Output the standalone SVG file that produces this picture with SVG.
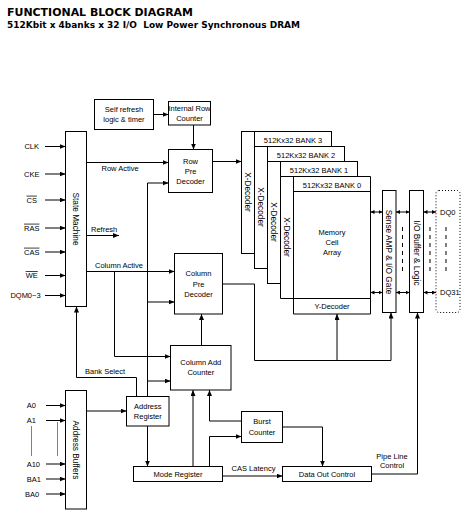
<svg xmlns="http://www.w3.org/2000/svg" width="468" height="522" viewBox="0 0 468 522">
<defs>
<marker id="ah" markerUnits="userSpaceOnUse" markerWidth="6" markerHeight="5" refX="6" refY="2.5" orient="auto"><path d="M0,0 L6,2.5 L0,5 z" fill="#000"/></marker>
<marker id="ahs" markerUnits="userSpaceOnUse" markerWidth="4" markerHeight="4" refX="4" refY="2" orient="auto-start-reverse"><path d="M0,0 L4,2 L0,4 z" fill="#000"/></marker>
<style>
.b{fill:#fff;stroke:#000;stroke-width:1}
.c{fill:none;stroke:#000;stroke-width:1}
.a{marker-end:url(#ah)}
.bi{marker-start:url(#ahs);marker-end:url(#ahs)}
.t{font-family:"Liberation Sans",Arial,sans-serif;font-size:7.5px;fill:#000}
.m{text-anchor:middle}
.r{font-size:8.3px;text-anchor:middle;dominant-baseline:central}
.ttl{font-family:"DejaVu Sans",Verdana,sans-serif;font-weight:bold;fill:#000}
.ol{text-decoration:overline}
</style>
</defs>
<rect width="468" height="522" fill="#fff"/>
<g id="title">
<text class="ttl" x="7" y="15.7" font-size="11" textLength="186" lengthAdjust="spacingAndGlyphs">FUNCTIONAL BLOCK DIAGRAM</text>
<text class="ttl" x="7" y="27.7" font-size="9.5" textLength="293" lengthAdjust="spacingAndGlyphs" xml:space="preserve">512Kbit x 4banks x 32 I/O  Low Power Synchronous DRAM</text>
</g>
<g id="signals" class="t m">
<text x="31.7" y="149.2">CLK</text>
<text x="31.7" y="176.7">CKE</text>
<text x="31.7" y="202.7" class="ol">CS</text>
<text x="31.7" y="230.7" class="ol">RAS</text>
<text x="31.7" y="254.7" class="ol">CAS</text>
<text x="31.7" y="278.2" class="ol">WE</text>
<text x="25.5" y="298.2">DQM0~3</text>
</g>
<g id="addr-signals" class="t">
<text x="26.7" y="408.2">A0</text>
<text x="26.7" y="423.2">A1</text>
<text x="26.7" y="466.7">A10</text>
<text x="26.7" y="481.7">BA1</text>
<text x="25" y="496.7">BA0</text>
</g>
<g id="state-machine"><rect class="b" x="65.5" y="131.5" width="21" height="175"/><text class="t r" transform="translate(76,219) rotate(90)">State Machine</text></g>
<g id="address-buffers"><rect class="b" x="65.5" y="390.5" width="21" height="118.5"/><text class="t r" transform="translate(76,450) rotate(90)">Address Buffers</text></g>
<g id="self-refresh"><rect class="b" x="94.5" y="99.5" width="59" height="30"/><text class="t m" x="124" y="111.7">Self refresh</text><text class="t m" x="124" y="121.7">logic &amp; timer</text></g>
<g id="internal-row-counter"><rect class="b" x="168.5" y="101.5" width="42" height="23.5"/><text class="t m" x="189.5" y="111" font-size="7">Internal Row</text><text class="t m" x="189.5" y="121" font-size="7">Counter</text></g>
<g id="row-pre-decoder"><rect class="b" x="168.5" y="149.5" width="44" height="43"/><text class="t m" x="190.5" y="163.7">Row</text><text class="t m" x="190.5" y="173.7">Pre</text><text class="t m" x="190.5" y="183.7">Decoder</text></g>
<g id="column-pre-decoder"><rect class="b" x="174.5" y="253.5" width="48" height="60.5"/><text class="t m" x="198.5" y="276">Column</text><text class="t m" x="198.5" y="286.5">Pre</text><text class="t m" x="198.5" y="297">Decoder</text></g>
<g id="column-add-counter"><rect class="b" x="170.5" y="345.5" width="60.5" height="44.5"/><text class="t m" x="200.8" y="365">Column Add</text><text class="t m" x="200.8" y="374.5">Counter</text></g>
<g id="address-register"><rect class="b" x="126.5" y="396.5" width="42.5" height="29.5"/><text class="t m" x="147.8" y="408.5">Address</text><text class="t m" x="147.8" y="418.5">Register</text></g>
<g id="mode-register"><rect class="b" x="133.5" y="466.5" width="89" height="15"/><text class="t m" x="178" y="476.7">Mode Register</text></g>
<g id="burst-counter"><rect class="b" x="241.5" y="411.5" width="41" height="31"/><text class="t m" x="262" y="423.7">Burst</text><text class="t m" x="262" y="435">Counter</text></g>
<g id="data-out-control"><rect class="b" x="282.5" y="466.5" width="89" height="15"/><text class="t m" x="327" y="476.7">Data Out Control</text></g>
<g id="bank3"><rect class="b" x="241.5" y="131.5" width="90" height="122"/><line class="c" x1="254.5" y1="131.5" x2="254.5" y2="253.5"/><text class="t m" x="293" y="142.5">512Kx32 BANK 3</text><text class="t r" transform="translate(248,192) rotate(90)">X-Decoder</text></g>
<g id="bank2"><rect class="b" x="254.5" y="146.5" width="90" height="122"/><line class="c" x1="267.5" y1="146.5" x2="267.5" y2="268.5"/><text class="t m" x="306" y="157.5">512Kx32 BANK 2</text><text class="t r" transform="translate(261,207) rotate(90)">X-Decoder</text></g>
<g id="bank1"><rect class="b" x="267.5" y="161.5" width="90" height="122"/><line class="c" x1="280.5" y1="161.5" x2="280.5" y2="283.5"/><text class="t m" x="319" y="172.5">512Kx32 BANK 1</text><text class="t r" transform="translate(274,222) rotate(90)">X-Decoder</text></g>
<g id="bank0"><path class="b" d="M280.5,176.5 H370.5 V314 H293.5 V298.5 H280.5 Z"/><path class="c" d="M293.5,176.5 V298.5 H370.5 M293.5,191.5 H370.5"/><text class="t m" x="332" y="187.5">512Kx32 BANK 0</text><text class="t r" transform="translate(287,237) rotate(90)">X-Decoder</text><text class="t m" x="332" y="235">Memory</text><text class="t m" x="332" y="245">Cell</text><text class="t m" x="332" y="255">Array</text><text class="t m" x="332" y="308.7">Y-Decoder</text></g>
<g id="sense-amp"><rect class="b" x="382.5" y="190.5" width="13.5" height="122"/><text class="t r" transform="translate(389.3,252) rotate(90)">Sense AMP &amp; I/O Gate</text></g>
<g id="io-buffer"><rect class="b" x="409.5" y="190.5" width="14" height="122"/><text class="t r" transform="translate(416.5,253) rotate(90)">I/O Buffer &amp; Logic</text></g>
<g id="dq-pins"><rect x="436" y="190.5" width="24" height="122" rx="3" fill="none" stroke="#000" stroke-width="1" stroke-dasharray="1,2"/><text class="t" x="440" y="214.7">DQ0</text><text class="t" x="440" y="295.2">DQ31</text></g>
<g id="connectors">
<line class="c a" x1="45" y1="146.5" x2="65.5" y2="146.5"/>
<line class="c a" x1="45" y1="174" x2="65.5" y2="174"/>
<line class="c a" x1="45" y1="200" x2="65.5" y2="200"/>
<line class="c a" x1="45" y1="228" x2="65.5" y2="228"/>
<line class="c a" x1="45" y1="252" x2="65.5" y2="252"/>
<line class="c a" x1="45" y1="275.5" x2="65.5" y2="275.5"/>
<line class="c a" x1="45" y1="295.5" x2="65.5" y2="295.5"/>
<line class="c a" x1="46" y1="405.5" x2="65.5" y2="405.5"/>
<line class="c a" x1="46" y1="420.5" x2="65.5" y2="420.5"/>
<line class="c a" x1="46" y1="464" x2="65.5" y2="464"/>
<line class="c a" x1="46" y1="479" x2="65.5" y2="479"/>
<line class="c a" x1="46" y1="494" x2="65.5" y2="494"/>
<line class="c" x1="31.5" y1="426.5" x2="31.5" y2="455.5" stroke-dasharray="1,1"/>
<line class="c" x1="57.5" y1="422.5" x2="57.5" y2="456.5" stroke-dasharray="1,1"/>
<line class="c a" x1="153.5" y1="114.5" x2="168.5" y2="114.5"/>
<line class="c a" x1="193.5" y1="125" x2="193.5" y2="149.5"/>
<line class="c a" x1="86.5" y1="162.5" x2="168.5" y2="162.5"/>
<text class="t" x="101.5" y="171">Row Active</text>
<line class="c a" x1="212.5" y1="161.5" x2="241.5" y2="161.5"/>
<line class="c a" x1="86.5" y1="235.5" x2="119" y2="235.5"/>
<text class="t" x="91" y="232">Refresh</text>
<line class="c a" x1="86.5" y1="271.5" x2="174.5" y2="271.5"/>
<text class="t" x="95" y="268">Column Active</text>
<path class="c a" d="M114.5,271.5 V356.5 H170.5"/>
<path class="c a" d="M147.5,396.5 V183 H168.5"/>
<line class="c a" x1="147.5" y1="302" x2="174.5" y2="302"/>
<line class="c a" x1="147.5" y1="381" x2="170.5" y2="381"/>
<path class="c a" d="M136.5,396.5 V377.5 H76.5 V306.5"/>
<text class="t" x="85" y="374">Bank Select</text>
<line class="c a" x1="86.5" y1="411" x2="126.5" y2="411"/>
<line class="c a" x1="147.5" y1="426" x2="147.5" y2="466.5"/>
<line class="c a" x1="193" y1="466.5" x2="193" y2="390"/>
<path class="c a" d="M241.5,421 H209.5 V390"/>
<path class="c a" d="M209.5,466.5 V436.5 H241.5"/>
<line class="c a" x1="201.5" y1="345.5" x2="201.5" y2="314"/>
<path class="c a" d="M222.5,284 H254.5 V360.5 H391 V312.5"/>
<line class="c a" x1="337" y1="360.5" x2="337" y2="314"/>
<line class="c a" x1="222.5" y1="476" x2="282.5" y2="476"/>
<text class="t m" x="253.5" y="471">CAS Latency</text>
<path class="c a" d="M282.5,427 H322.5 V466.5"/>
<path class="c a" d="M371.5,474 H417.5 V312.5"/>
<text class="t m" x="392" y="458.5">Pipe Line</text>
<text class="t m" x="392" y="468">Control</text>
<line class="c bi" x1="370.5" y1="212" x2="382.5" y2="212"/>
<line class="c bi" x1="396" y1="212" x2="409.5" y2="212"/>
<line class="c bi" x1="423.5" y1="212" x2="436" y2="212"/>
<line class="c bi" x1="370.5" y1="292.5" x2="382.5" y2="292.5"/>
<line class="c bi" x1="396" y1="292.5" x2="409.5" y2="292.5"/>
<line class="c bi" x1="423.5" y1="292.5" x2="436" y2="292.5"/>
<line class="c" x1="402.5" y1="227" x2="402.5" y2="273" stroke-dasharray="4,4"/>
<line class="c" x1="430" y1="227" x2="430" y2="273" stroke-dasharray="4,4"/>
<line class="c" x1="446" y1="227" x2="446" y2="273" stroke-dasharray="4,4"/>
</g>
</svg>
